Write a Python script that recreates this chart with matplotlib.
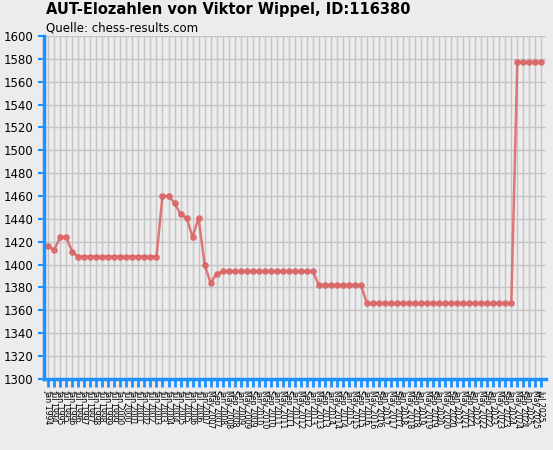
import matplotlib.pyplot as plt

dates = """Jan 1994,Jul 1994,Jan 1995,Jul 1995,Jan 1996,Jul 1996,Jan 1997,Jul 1997,Jan 1998,Jul 1998,
Jan 1999,Jul 1999,Jan 2000,Jul 2000,Jan 2001,Jul 2001,Jan 2002,Jul 2002,Jan 2003,Jul 2003,
Jan 2004,Jul 2004,Jan 2005,Jul 2005,Jan 2006,Jul 2006,Jan 2007,May 2007,Sep 2007,
Jan 2008,May 2008,Sep 2008,Jan 2009,May 2009,Sep 2009,Jan 2010,May 2010,Sep 2010,
Jan 2011,May 2011,Sep 2011,Jan 2012,May 2012,Sep 2012,Jan 2013,May 2013,Sep 2013,
Jan 2014,May 2014,Sep 2014,Jan 2015,May 2015,Sep 2015,Jan 2016,May 2016,Sep 2016,
Jan 2017,May 2017,Sep 2017,Jan 2018,May 2018,Sep 2018,Jan 2019,May 2019,Sep 2019,
Jan 2020,May 2020,Sep 2020,Jan 2021,May 2021,Sep 2021,Jan 2022,May 2022,Sep 2022,
Jan 2023,May 2023,Sep 2023,Jan 2024,May 2024,Sep 2024,Jan 2025,May 2025,Jul 2025"""
labels = [s.strip() for s in dates.replace("\n", "").split(",")]

elo = [1416, 1413, 1424, 1424, 1411,
       1407, 1407, 1407, 1407, 1407, 1407, 1407, 1407, 1407, 1407, 1407, 1407, 1407, 1407,
       1460, 1460, 1454, 1444, 1441, 1424, 1441, 1400, 1384, 1392,
       1394, 1394, 1394, 1394, 1394, 1394, 1394, 1394, 1394, 1394, 1394, 1394, 1394, 1394, 1394, 1394,
       1382, 1382, 1382, 1382, 1382, 1382, 1382, 1382,
       1366, 1366, 1366, 1366, 1366, 1366, 1366, 1366, 1366, 1366, 1366, 1366, 1366,
       1366, 1366, 1366, 1366, 1366, 1366, 1366, 1366, 1366, 1366, 1366, 1366,
       1577, 1577, 1577, 1577, 1577]

bg = '#ececec'
fig = plt.figure(figsize=(5.53, 4.5), dpi=100, facecolor=bg)
ax = fig.add_axes([0.0796, 0.158, 0.907, 0.762], facecolor=bg)
x = range(len(elo))
ax.plot(x, elo, color='#dc6464', lw=1.8, marker='o', ms=3.8, alpha=0.85)
ax.set_xlim(-0.7, len(elo) - 0.3)
ax.set_ylim(1300, 1600)
ax.set_yticks(range(1300, 1601, 20))
ax.set_xticks(list(x))
ax.set_xticklabels(labels, rotation=-90, fontsize=5.6)
ax.tick_params(axis='y', labelsize=8.5, color='#1e90ff', length=4, width=1.5)
ax.tick_params(axis='x', color='#1e90ff', length=6, width=2, pad=2)
ax.grid(True, color='#c4c4c4', lw=1)
ax.set_axisbelow(True)
for s in ['top', 'right']:
    ax.spines[s].set_visible(False)
for s in ['left', 'bottom']:
    ax.spines[s].set_color('#1e90ff')
    ax.spines[s].set_linewidth(2.5)
fig.text(0.083, 0.968, 'AUT-Elozahlen von Viktor Wippel, ID:116380', fontsize=10.5, fontweight='bold')
fig.text(0.083, 0.93, 'Quelle: chess-results.com', fontsize=8.5)
fig.savefig('out.png', dpi=100, facecolor=bg)
